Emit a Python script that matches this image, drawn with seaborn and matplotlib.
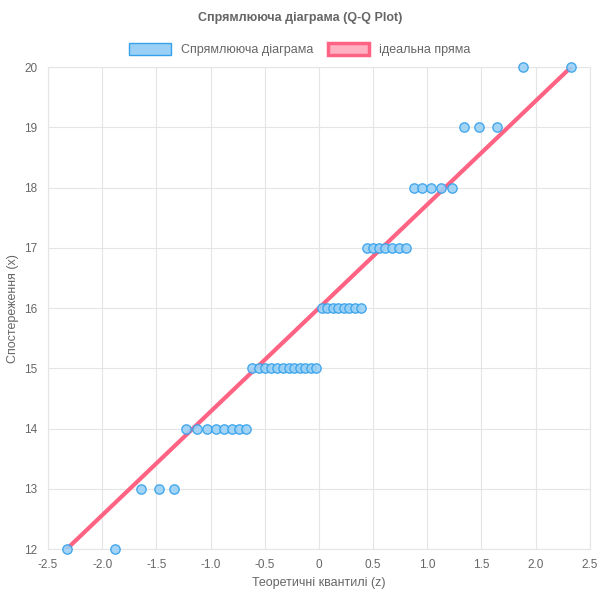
import matplotlib
matplotlib.use("Agg")
import matplotlib.pyplot as plt
import seaborn as sns
import pandas as pd
from statistics import NormalDist
from matplotlib.patches import Patch

values = [12]*2 + [13]*3 + [14]*8 + [15]*12 + [16]*8 + [17]*7 + [18]*5 + [19]*3 + [20]*2
n = len(values)
quantiles = [NormalDist().inv_cdf((i + 0.5) / n) for i in range(n)]
df = pd.DataFrame({"z": quantiles, "x": values})
line_df = pd.DataFrame({"z": [quantiles[0], quantiles[-1]], "x": [values[0], values[-1]]})

sns.set_style("white")
plt.rcParams['font.family'] = ['Liberation Sans', 'DejaVu Sans']
fig = plt.figure(figsize=(6, 6), dpi=100)
ax = fig.add_axes([0.08, 0.085, 0.903, 0.803])

sns.lineplot(data=line_df, x="z", y="x", ax=ax, color="#ff6384", linewidth=3, zorder=3)
sc = sns.scatterplot(data=df, x="z", y="x", ax=ax, s=45, color="#9ad0f5", edgecolor="#36a2eb",
                linewidth=1, alpha=0.9, zorder=4)
for c in ax.collections:
    c.set_clip_on(False)

ax.set_xlim(-2.5, 2.5)
ax.set_ylim(12, 20)
ax.set_xticks([-2.5, -2, -1.5, -1, -0.5, 0, 0.5, 1, 1.5, 2, 2.5])
ax.set_xticklabels(["-2.5", "-2.0", "-1.5", "-1.0", "-0.5", "0", "0.5", "1.0", "1.5", "2.0", "2.5"])
ax.set_yticks(range(12, 21))
ax.grid(True, color="#e5e5e5", linewidth=0.8)
for s in ax.spines.values():
    s.set_color("#e5e5e5")
ax.tick_params(colors="#666666", labelsize=8.5, length=4, color="#e5e5e5")
ax.set_xlabel("Теоретичні квантилі (z)", color="#666666", fontsize=9)
ax.set_ylabel("Спостереження (x)", color="#666666", fontsize=9)

fig.text(0.5, 0.97, "Спрямлююча діаграма (Q-Q Plot)", ha="center", va="center",
         fontsize=9, fontweight="bold", color="#666666")
handles = [Patch(facecolor="#9ad0f5", edgecolor="#36a2eb", linewidth=1),
           Patch(facecolor="#ffb1c1", edgecolor="#ff6384", linewidth=2.5)]
fig.legend(handles, ["Спрямлююча діаграма", "ідеальна пряма"], loc="center",
           bbox_to_anchor=(0.5, 0.918), ncol=2, frameon=False, fontsize=9,
           labelcolor="#666666", handlelength=3.3, handleheight=1.1, columnspacing=1.2)
fig.savefig("out.png", dpi=100)
